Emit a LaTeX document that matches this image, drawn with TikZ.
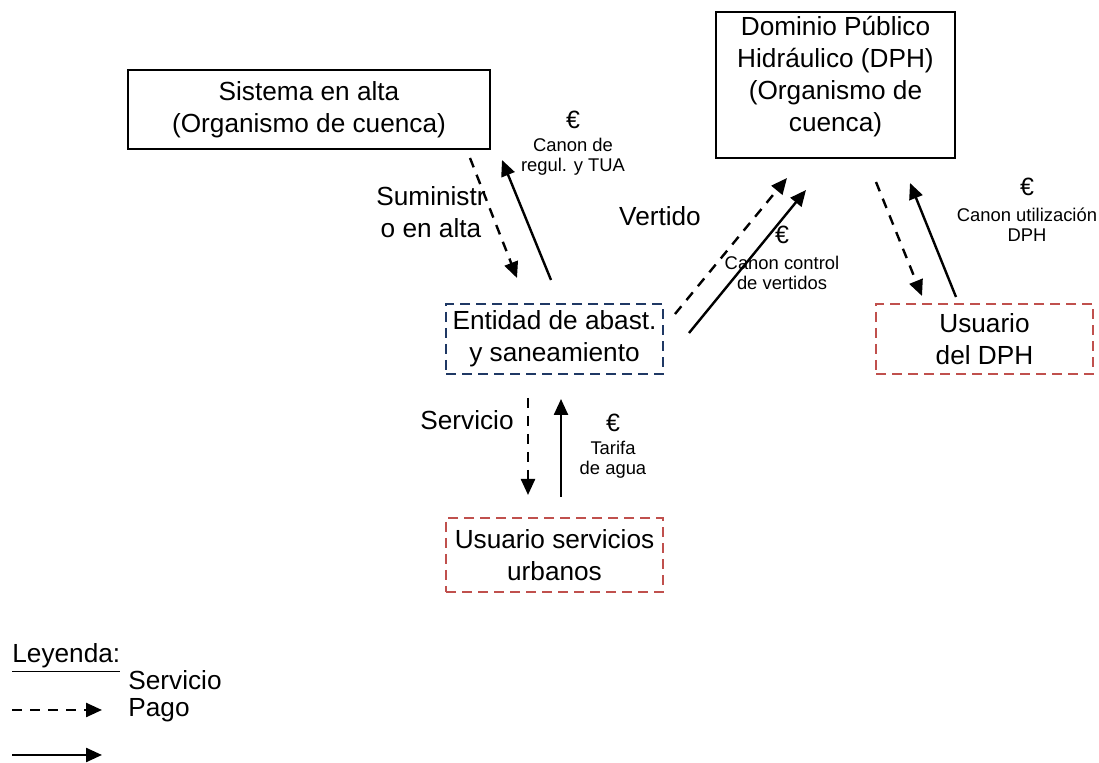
\documentclass[tikz,border=0pt]{standalone}
\usepackage{fontspec}
\setmainfont{Liberation Sans}
\usetikzlibrary{arrows.meta}

\begin{document}
\begin{tikzpicture}[x=0.5pt,y=-0.5pt]
\definecolor{navy2}{RGB}{31,56,100};
\definecolor{indianred2}{RGB}{192,80,77};
\tikzstyle{every node}=[inner sep=0pt,align=center,font=\fontsize{13.1}{16}\selectfont];
\tikzstyle{caja}=[draw=black,line width=1pt];
\tikzstyle{cajaazul}=[draw=navy2,line width=1pt,dash pattern=on 5pt off 3pt];
\tikzstyle{cajaroja}=[draw=indianred2,line width=1pt,dash pattern=on 5pt off 3pt];
\tikzstyle{servicio}=[line width=1.2pt,dash pattern=on 5pt off 4pt,-{Triangle[length=8pt,width=7pt]}];
\tikzstyle{pago}=[line width=1.2pt,-{Triangle[length=8pt,width=7pt]}];
\tikzstyle{euro}=[font=\fontsize{12.5}{14}\selectfont];
\tikzstyle{canon}=[font=\fontsize{9.2}{10}\selectfont];
\useasboundingbox (0,0) rectangle (1099,763);
\node[caja,minimum width=181pt,minimum height=39.5pt] (sistema) at (309,109.5) {Sistema en alta\\(Organismo de cuenca)};
\node[caja,minimum width=119.5pt,minimum height=73pt] (dph) at (835.5,85) {};
\node (dphtexto) at (835.5,77) {Dominio Público\\Hidráulico (DPH)\\(Organismo de\\cuenca)};
\node[cajaazul,minimum width=108.5pt,minimum height=35pt] (entidad) at (554.5,339) {Entidad de abast.\\y saneamiento};
\node[cajaroja,minimum width=108.5pt,minimum height=35pt] (usuariodph) at (984.5,339) {Usuario\\del DPH};
\node[cajaroja,minimum width=108.5pt,minimum height=37pt] (usuariourb) at (554.5,555) {Usuario servicios\\urbanos};
\foreach \n/\x/\y in {s1/470/158,s2/517/278,p1/551/280,p2/502/160,
  s3/675/314,s4/787/178,p3/689/333,p4/806/190,
  s5/876/182,s6/922/296,p5/956/297,p6/910/183,
  s7/528/398,s8/528/495,p7/561/497,p8/561/399,
  ls1/12/710,ls2/102/710,lp1/12/755,lp2/102/755}
\coordinate (\n) at (\x,\y);
\foreach \a/\b in {s1/s2,s3/s4,s5/s6,s7/s8,ls1/ls2}
\draw[servicio] (\a) -- (\b);
\foreach \a/\b in {p1/p2,p3/p4,p5/p6,p7/p8,lp1/lp2}
\draw[pago] (\a) -- (\b);
\node[euro] (euro1) at (573,120) {€};
\node[canon] (canon1) at (573,157) {Canon de\\regul. y TUA};
\node (suministro) at (431,212) {Suministr\\o en alta};
\node (vertido) at (660,216) {Vertido};
\node[euro] (euro2) at (782,235) {€};
\node[canon] (canon2) at (782,273) {Canon control\\de vertidos};
\node[euro] (euro3) at (1027,187) {€};
\node[canon] (canon3) at (1027,225) {Canon utilización\\DPH};
\node (txtservicio) at (467,420) {Servicio};
\node[euro] (euro4) at (613,423) {€};
\node[canon] (canon4) at (613,460) {Tarifa\\de agua};
\node[anchor=west] (leyenda) at (12,658) {\underline{Leyenda:}};
\node[anchor=west] (lservicio) at (128,680) {Servicio};
\node[anchor=west] (lpago) at (128,710) {Pago};
\end{tikzpicture}
\end{document}
